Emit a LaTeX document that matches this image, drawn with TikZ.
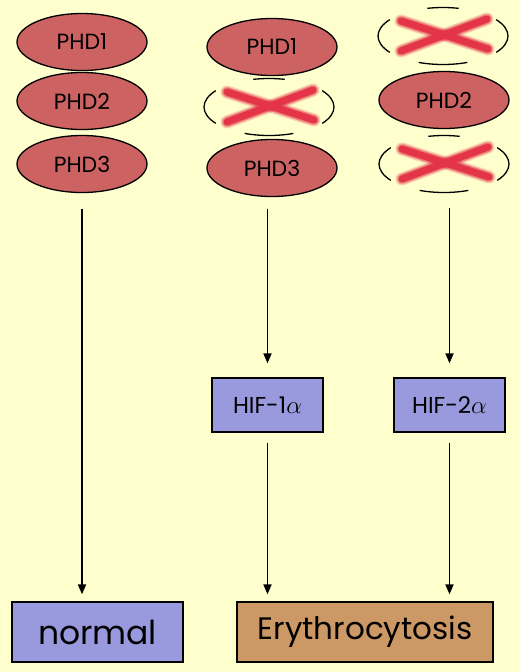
\documentclass[tikz,border=0pt]{standalone}
\usepackage{fontspec}
\setmainfont{Poppins}
\usetikzlibrary{shapes.geometric,arrows.meta}
\definecolor{bgyellow}{RGB}{255,255,206}
\definecolor{phdred}{RGB}{205,98,98}
\definecolor{hifblue}{RGB}{153,153,222}
\definecolor{eryorange}{RGB}{204,153,102}
\definecolor{crossred}{RGB}{228,52,72}
\begin{document}
\begin{tikzpicture}[x=1pt,y=-1pt,
  phd/.style={ellipse,draw=black,line width=1.3pt,fill=phdred,minimum width=130pt,minimum height=57pt,inner sep=0pt,font=\fontsize{22}{26}\selectfont},
  gone/.style={ellipse,minimum width=130pt,minimum height=57pt,inner sep=0pt},
  hifbox/.style={rectangle,draw=black,line width=1.3pt,fill=hifblue,minimum width=111pt,minimum height=54pt,inner sep=0pt,font=\fontsize{23}{27}\selectfont},
  endbox/.style={rectangle,draw=black,line width=1.3pt,minimum height=60pt,inner sep=0pt},
  flow/.style={draw=black,line width=1.8pt,-{Triangle[length=10pt,width=8pt]}},
  remnant/.style={draw=black,line width=1.3pt}
]
\path[use as bounding box,fill=bgyellow] (0,0) rectangle (520,672);

% column 1
\node[phd] (p11) at (82,42) {PHD1};
\node[phd] (p12) at (82,101) {PHD2};
\node[phd] (p13) at (82,164) {PHD3};
% column 2
\node[phd] (p21) at (272,47) {PHD1};
\node[gone] (x22) at (269,107) {};
\node[phd] (p23) at (272,168) {PHD3};
% column 3
\node[gone] (x31) at (443,36) {};
\node[phd] (p32) at (444,100) {PHD2};
\node[gone] (x33) at (444,164) {};

% removed enzymes
\foreach \c in {x22,x31,x33}{
  \draw[remnant] ([shift={(145:65pt and 28.5pt)}]\c.center) arc[start angle=145,end angle=215,x radius=65pt,y radius=28.5pt];
  \draw[remnant] ([shift={(-35:65pt and 28.5pt)}]\c.center) arc[start angle=-35,end angle=35,x radius=65pt,y radius=28.5pt];
  \draw[remnant] ([shift={(76:65pt and 28.5pt)}]\c.center) arc[start angle=76,end angle=104,x radius=65pt,y radius=28.5pt];
  \draw[remnant] ([shift={(248:65pt and 28.5pt)}]\c.center) arc[start angle=248,end angle=292,x radius=65pt,y radius=28.5pt];
  \foreach \w/\o in {13/0.25,10/0.5,7/1}{
    \draw[crossred,line width=\w pt,line cap=round,opacity=\o] ([shift={(-42,-15)}]\c.center) -- ([shift={(45,13)}]\c.center);
    \draw[crossred,line width=\w pt,line cap=round,opacity=\o] ([shift={(44,-17)}]\c.center) -- ([shift={(-42,15)}]\c.center);
  }
}

% HIF boxes
\node[hifbox] (hif1) at (267.5,405) {HIF-1$\alpha$};
\node[hifbox] (hif2) at (449.5,405) {HIF-2$\alpha$};
% outcome boxes
\node[endbox,fill=hifblue,minimum width=171pt,font=\fontsize{33}{38}\selectfont] (normal) at (97.5,632) {normal};
\node[endbox,fill=eryorange,minimum width=256pt,font=\fontsize{31}{36}\selectfont] (ery) at (365,632) {Erythrocytosis};

% connectors
\draw[flow,shorten <=15.5pt,shorten >=7pt] (p13.south) -- (p13.south |- normal.north);
\draw[flow,shorten <=11.5pt,shorten >=14pt] (hif1.north |- p23.south) -- (hif1.north);
\draw[flow,shorten <=15.5pt,shorten >=14pt] (hif2.north |- x33.south) -- (hif2.north);
\draw[flow,shorten <=10pt,shorten >=7pt] (hif1.south) -- (hif1.south |- ery.north);
\draw[flow,shorten <=10pt,shorten >=7pt] (hif2.south) -- (hif2.south |- ery.north);
\end{tikzpicture}
\end{document}
